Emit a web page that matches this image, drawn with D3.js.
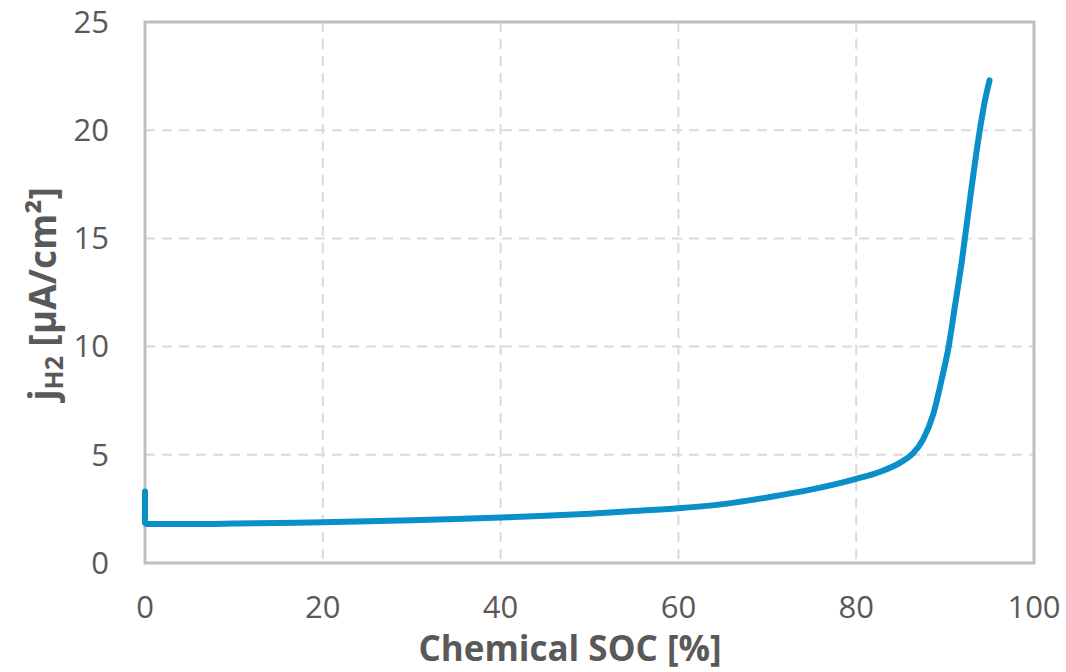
<!DOCTYPE html>
<html>
<head>
<meta charset="utf-8">
<script src="https://cdn.jsdelivr.net/npm/d3@7"></script>
<style>
  body { margin: 0; background: #fff; }
  text { font-family: "Open Sans", sans-serif; fill: #595959; }
</style>
</head>
<body>
<div id="chart"></div>
<script>
// chemical SOC [%] and hydrogen current density [µA/cm²]
var soc = [0, 0, 0.2, 5, 10, 15, 20, 25, 30, 35, 40, 45, 50, 55, 60, 65, 70, 75, 80, 82.7, 85, 86.4, 87.5, 88.7, 89.6, 90.4, 91.1, 91.9, 92.8, 93.9, 94.5, 95];
var jH2 = [3.3, 1.85, 1.8, 1.8, 1.82, 1.85, 1.88, 1.93, 1.98, 2.03, 2.1, 2.18, 2.28, 2.4, 2.53, 2.72, 3.03, 3.4, 3.89, 4.22, 4.65, 5.07, 5.69, 6.92, 8.46, 10.0, 11.85, 14.0, 16.8, 20.0, 21.4, 22.3];
var xTicks = [0, 20, 40, 60, 80, 100];
var yTicks = [0, 5, 10, 15, 20, 25];

var width = 1066, height = 672;
var plotLeft = 145, plotRight = 1034, plotTop = 22, plotBottom = 563;

var svg = d3.select("#chart")
    .append("svg")
    .attr("width", width)
    .attr("height", height);

var x = d3.scaleLinear().domain([0, 100]).range([plotLeft, plotRight]);
var y = d3.scaleLinear().domain([0, 25]).range([plotBottom, plotTop]);

// gridlines
svg.append("g")
    .selectAll("line")
    .data(yTicks.slice(1, -1))
    .enter().append("line")
    .attr("x1", plotLeft).attr("x2", plotRight)
    .attr("y1", d => y(d)).attr("y2", d => y(d))
    .attr("stroke", "#d9d9d9").attr("stroke-width", 2)
    .attr("stroke-dasharray", "10,7");

svg.append("g")
    .selectAll("line")
    .data(xTicks.slice(1, -1))
    .enter().append("line")
    .attr("y1", plotTop).attr("y2", plotBottom)
    .attr("x1", d => x(d)).attr("x2", d => x(d))
    .attr("stroke", "#d9d9d9").attr("stroke-width", 2)
    .attr("stroke-dasharray", "10,7");

// plot border
svg.append("rect")
    .attr("x", plotLeft).attr("y", plotTop)
    .attr("width", plotRight - plotLeft).attr("height", plotBottom - plotTop)
    .attr("fill", "none")
    .attr("stroke", "#bfbfbf").attr("stroke-width", 3);

// tick labels
svg.append("g")
    .selectAll("text")
    .data(yTicks)
    .enter().append("text")
    .attr("x", 109)
    .attr("y", d => y(d))
    .attr("dy", "0.35em")
    .attr("text-anchor", "end")
    .attr("font-size", 31)
    .text(d => d);

svg.append("g")
    .selectAll("text")
    .data(xTicks)
    .enter().append("text")
    .attr("x", d => x(d))
    .attr("y", 607)
    .attr("dy", "0.35em")
    .attr("text-anchor", "middle")
    .attr("font-size", 31)
    .text(d => d);

// axis titles
svg.append("text")
    .attr("x", 570)
    .attr("y", 661)
    .attr("text-anchor", "middle")
    .attr("font-size", 35)
    .attr("font-weight", "bold")
    .text("Chemical SOC [%]");

var yt = svg.append("text")
    .attr("transform", "translate(56,294) rotate(-90)")
    .attr("text-anchor", "middle")
    .attr("font-size", 37)
    .attr("font-weight", "bold");
yt.append("tspan").text("j");
yt.append("tspan").attr("font-size", 25).attr("dy", 7).text("H2");
yt.append("tspan").attr("dy", -7).text(" [µA/cm²]");

// data line
var line = d3.line()
    .x(function(d, i) { return x(soc[i]); })
    .y(function(d, i) { return y(jH2[i]); })
    .curve(d3.curveMonotoneX);

svg.append("path")
    .datum(jH2)
    .attr("d", line)
    .attr("fill", "none")
    .attr("stroke", "#0a8fc8")
    .attr("stroke-width", 6)
    .attr("stroke-linecap", "round")
    .attr("stroke-linejoin", "round");
</script>
</body>
</html>
